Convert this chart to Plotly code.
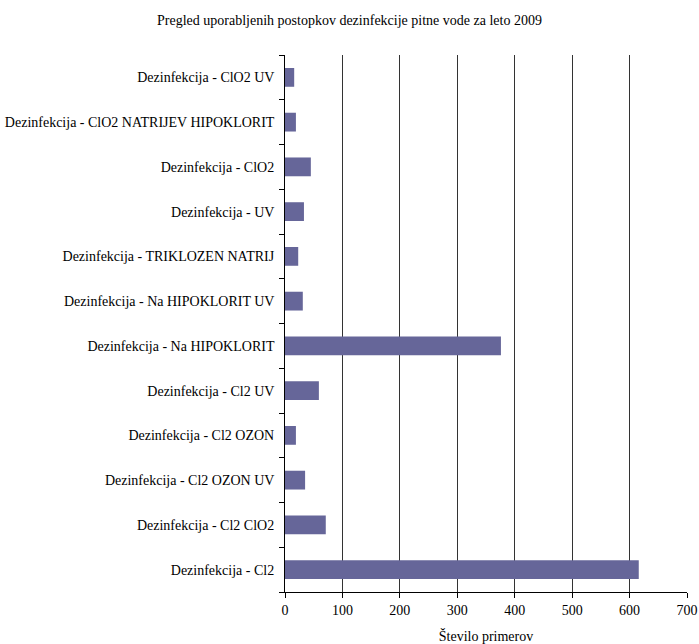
import plotly.graph_objects as go

# Disinfection methods, listed bottom to top
categories = [
    "Dezinfekcija - Cl2",
    "Dezinfekcija - Cl2 ClO2",
    "Dezinfekcija - Cl2 OZON UV",
    "Dezinfekcija - Cl2 OZON",
    "Dezinfekcija - Cl2 UV",
    "Dezinfekcija - Na HIPOKLORIT",
    "Dezinfekcija - Na HIPOKLORIT UV",
    "Dezinfekcija - TRIKLOZEN NATRIJ",
    "Dezinfekcija - UV",
    "Dezinfekcija - ClO2",
    "Dezinfekcija - ClO2 NATRIJEV HIPOKLORIT",
    "Dezinfekcija - ClO2 UV",
]
counts = [616, 71, 35, 19, 59, 376, 31, 23, 33, 45, 19, 16]
x_ticks = [0, 100, 200, 300, 400, 500, 600, 700]

serif = "Times New Roman"

fig = go.Figure(
    go.Bar(
        x=counts,
        y=categories,
        orientation="h",
        marker=dict(color="#666699", line=dict(width=0)),
        width=0.42,
    )
)

fig.update_layout(
    width=699,
    height=644,
    paper_bgcolor="white",
    plot_bgcolor="white",
    margin=dict(l=285, r=12, t=55, b=52),
    showlegend=False,
    font=dict(family=serif, size=14, color="black"),
    title=dict(
        text="Pregled uporabljenih postopkov dezinfekcije pitne vode za leto 2009",
        x=0.5,
        xanchor="center",
        y=1 - 20 / 644,
        yanchor="middle",
        font=dict(family=serif, size=14, color="black"),
    ),
)

fig.update_xaxes(
    range=[0, 700],
    tickvals=x_ticks,
    ticktext=[str(v) for v in x_ticks],
    showgrid=True,
    gridcolor="#333333",
    gridwidth=1,
    zeroline=False,
    showline=True,
    linecolor="black",
    linewidth=1,
    ticks="outside",
    ticklen=5,
    tickcolor="black",
    automargin=False,
    title=dict(text="Število primerov", standoff=14, font=dict(family=serif, size=14, color="black")),
    tickfont=dict(family=serif, size=14, color="black"),
)

fig.update_yaxes(
    categoryorder="array",
    categoryarray=categories,
    showgrid=False,
    showline=True,
    linecolor="black",
    linewidth=1,
    ticks="outside",
    tickson="boundaries",
    ticklen=5,
    tickcolor="black",
    ticksuffix="  ",
    automargin=False,
    tickfont=dict(family=serif, size=14, color="black"),
)

fig.write_html("out.html")
